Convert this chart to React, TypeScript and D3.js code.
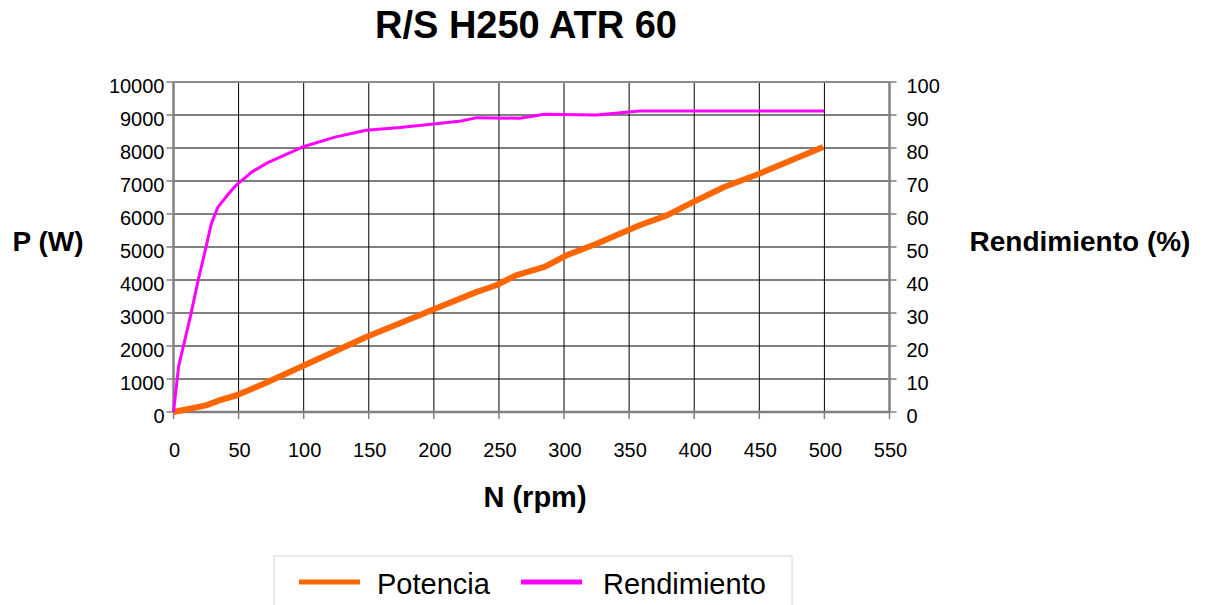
import React from 'react';
import * as d3 from 'd3';

// datos
const potRpm = [0, 25, 35, 48, 60, 72, 148, 189, 198, 233, 248, 263, 285, 302, 325, 358, 379, 399, 423, 450, 499];
const potW = [0, 200, 350, 500, 700, 900, 2270, 2930, 3080, 3640, 3840, 4140, 4400, 4750, 5100, 5660, 5960, 6360, 6820, 7220, 8030];

const rendRpm = [0, 4, 13, 19, 25, 29, 34, 42, 48, 60, 72, 99, 124, 148, 174, 198, 221, 233, 266, 285, 325, 358, 500];
const rendPct = [0, 14, 29, 40, 50, 57, 62, 66, 68.7, 72.7, 75.5, 80.3, 83.3, 85.4, 86.2, 87.2, 88.2, 89.2, 89, 90.2, 90, 91.2, 91.2];

const xTicks = [0, 50, 100, 150, 200, 250, 300, 350, 400, 450, 500, 550];
const leftTicks = [0, 1000, 2000, 3000, 4000, 5000, 6000, 7000, 8000, 9000, 10000];
const rightTicks = [0, 10, 20, 30, 40, 50, 60, 70, 80, 90, 100];

const W = 1212;
const H = 605;
const FONT = '"Liberation Sans", Arial, sans-serif';

const App: React.FC = () => {
    const x = d3.scaleLinear().domain([0, 550]).range([173.5, 889.5]);
    const yL = d3.scaleLinear().domain([0, 10000]).range([412, 82]);
    const yR = d3.scaleLinear().domain([0, 100]).range([412, 82]);

    const potLine = d3.line<number>()
        .x((_, i) => x(potRpm[i]))
        .y(d => yL(d));
    const rendLine = d3.line<number>()
        .x((_, i) => x(rendRpm[i]))
        .y(d => yR(d));

    const [x0, x1] = x.range();
    const [yb, yt] = yL.range();

    return (
        <svg width={W} height={H} style={{position: 'absolute', left: 0, top: 0, background: '#fff'}}
             fontFamily={FONT}>
            {/* rejilla */}
            {leftTicks.slice(1, -1).map(t => (
                <line key={'h' + t} x1={x0} x2={x1} y1={yL(t)} y2={yL(t)} stroke="#000" strokeWidth={1}/>
            ))}
            {xTicks.slice(1, -1).map(t => (
                <line key={'v' + t} x1={x(t)} x2={x(t)} y1={yt} y2={yb} stroke="#000" strokeWidth={1}/>
            ))}

            {/* marco */}
            <line x1={x0} x2={x1} y1={yt} y2={yt} stroke="#8c8c8c" strokeWidth={2}/>
            <line x1={x0} x2={x0} y1={yt} y2={yb} stroke="#808080" strokeWidth={2.5}/>
            <line x1={x1} x2={x1} y1={yt} y2={yb} stroke="#808080" strokeWidth={2.5}/>
            <line x1={x0} x2={x1} y1={yb} y2={yb} stroke="#808080" strokeWidth={2.5}/>

            {/* eje izquierdo */}
            {leftTicks.map(t => (
                <g key={'l' + t}>
                    <line x1={x0 - 7} x2={x0} y1={yL(t)} y2={yL(t)} stroke="#808080" strokeWidth={1.5}/>
                    <text x={x0 - 9} y={yL(t) + 11} textAnchor="end" fontSize={20} fill="#000">{t}</text>
                </g>
            ))}
            {/* eje derecho */}
            {rightTicks.map(t => (
                <g key={'r' + t}>
                    <line x1={x1} x2={x1 + 7} y1={yR(t)} y2={yR(t)} stroke="#808080" strokeWidth={1.5}/>
                    <text x={x1 + 17} y={yR(t) + 11} textAnchor="start" fontSize={20} fill="#000">{t}</text>
                </g>
            ))}
            {/* eje x */}
            {xTicks.map(t => (
                <g key={'x' + t}>
                    <line x1={x(t)} x2={x(t)} y1={yb} y2={yb + 7} stroke="#808080" strokeWidth={1.5}/>
                    <text x={x(t) + 1} y={yb + 45} textAnchor="middle" fontSize={20} fill="#000">{t}</text>
                </g>
            ))}

            {/* series */}
            <path d={potLine(potW) || ''} fill="none" stroke="#ff6600" strokeWidth={6} strokeLinejoin="round"/>
            <path d={rendLine(rendPct) || ''} fill="none" stroke="#ff00ff" strokeWidth={3} strokeLinejoin="round"/>

            {/* títulos */}
            <text x={526} y={38} textAnchor="middle" fontSize={38} fontWeight="bold">R/S H250 ATR 60</text>
            <text x={48} y={251} textAnchor="middle" fontSize={28} fontWeight="bold">P (W)</text>
            <text x={1080} y={251} textAnchor="middle" fontSize={28} fontWeight="bold">Rendimiento (%)</text>
            <text x={535} y={507} textAnchor="middle" fontSize={29} fontWeight="bold">N (rpm)</text>

            {/* leyenda */}
            <rect x={274} y={556} width={518} height={60} fill="#fff" stroke="#e4e4e4" strokeWidth={1.5}/>
            <line x1={299} x2={360} y1={582} y2={582} stroke="#ff6600" strokeWidth={5}/>
            <text x={377} y={594} fontSize={29}>Potencia</text>
            <line x1={521} x2={582} y1={582} y2={582} stroke="#ff00ff" strokeWidth={5}/>
            <text x={603} y={594} fontSize={29}>Rendimiento</text>
        </svg>
    );
};

export default App;
